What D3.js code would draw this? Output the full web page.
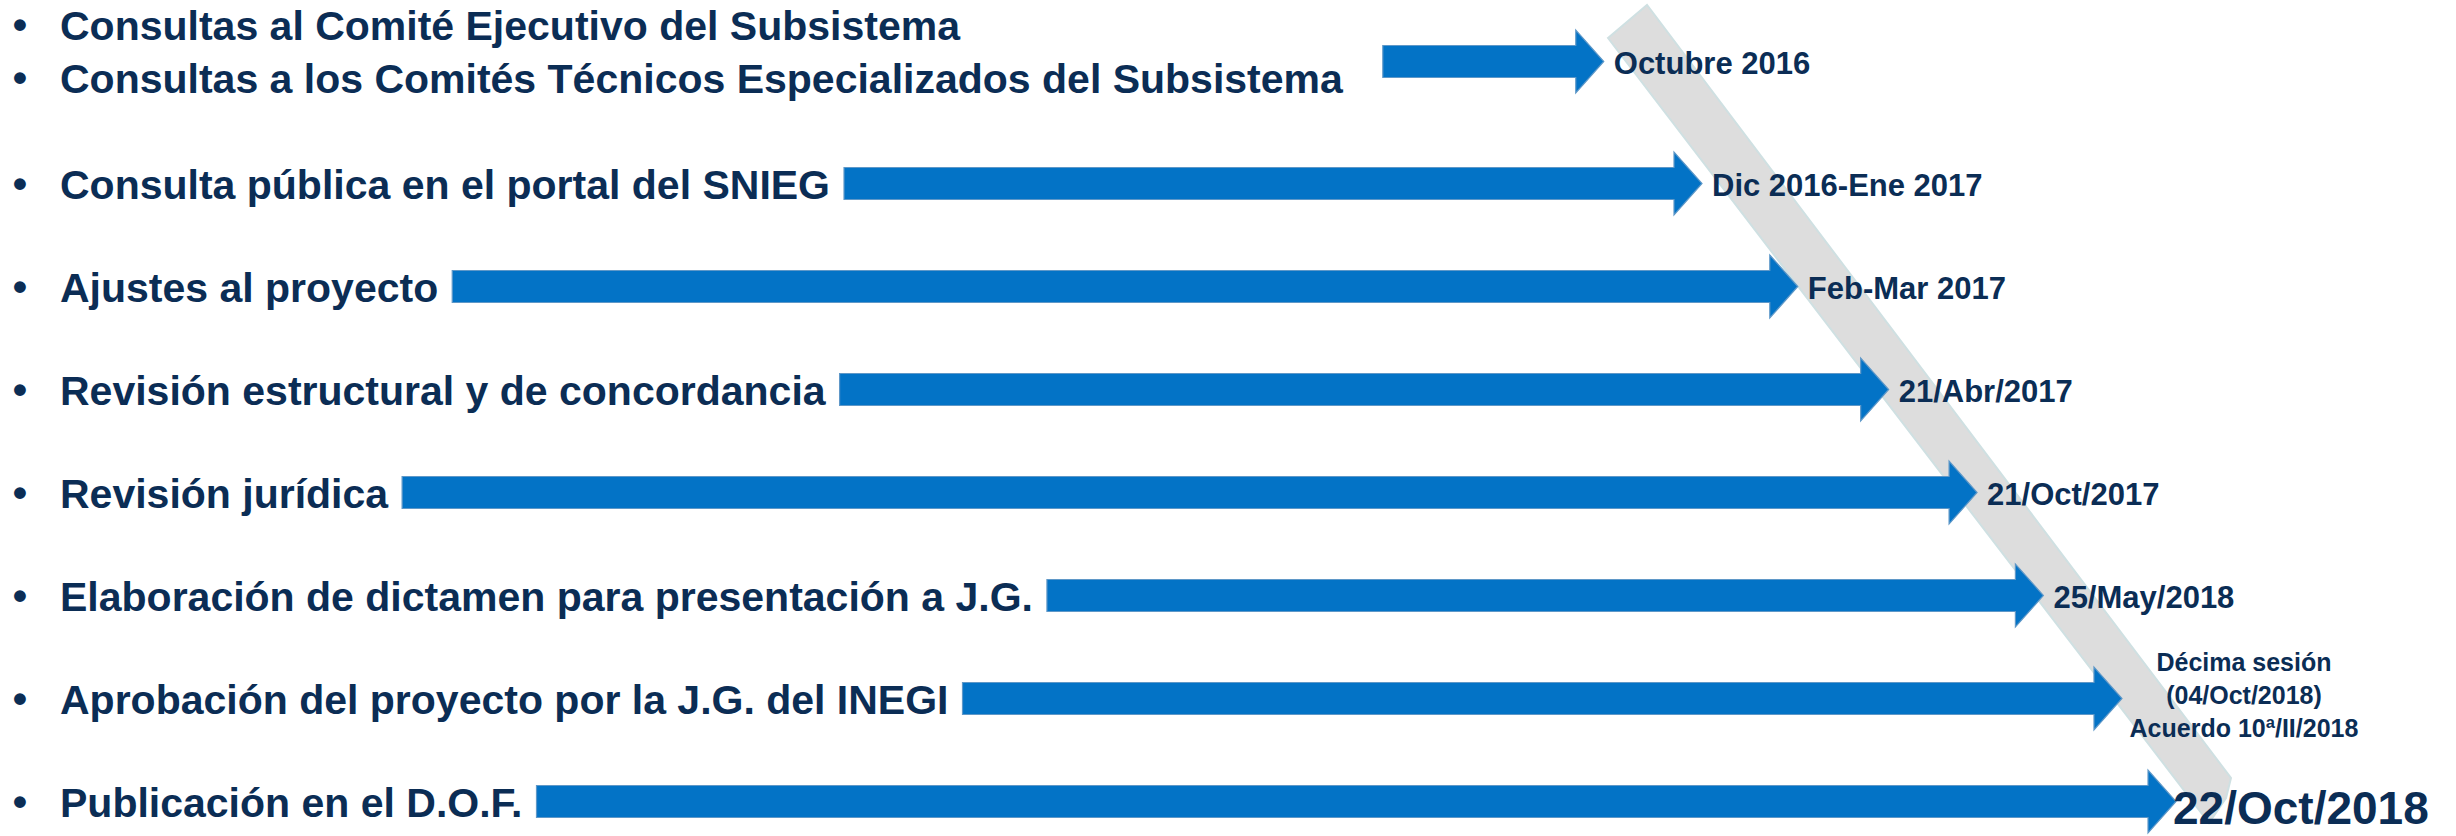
<!DOCTYPE html>
<meta charset="utf-8">
<style>
    body { margin: 0; background: #fff; }
    svg { display: block; }
    .task text.label, .task text.bullet { fill: #0b2d55; font: bold 41px "Liberation Sans", Arial, sans-serif; }
    .task text.date { fill: #0b2d55; font: bold 31px "Liberation Sans", Arial, sans-serif; }
    .task text.date.multi { font-size: 25px; text-anchor: middle; }
    .task text.date.final { font-size: 46px; }
    .arrow { fill: #0373c6; stroke: #5f98c8; stroke-width: 1.2; }
    .band { fill: #dddddd; stroke: #cfe0e2; stroke-width: 2; }
</style>
<svg class="timeline"></svg>
<script src="https://cdn.jsdelivr.net/npm/d3@7/dist/d3.min.js"></script>
<script>
    var tasks = [
        ["Consultas al Comité Ejecutivo del Subsistema", "Consultas a los Comités Técnicos Especializados del Subsistema"],
        ["Consulta pública en el portal del SNIEG"],
        ["Ajustes al proyecto"],
        ["Revisión estructural y de concordancia"],
        ["Revisión jurídica"],
        ["Elaboración de dictamen para presentación a J.G."],
        ["Aprobación del proyecto por la J.G. del INEGI"],
        ["Publicación en el D.O.F."]
    ];
    var dateLabels = [
        "Octubre 2016",
        "Dic 2016-Ene 2017",
        "Feb-Mar 2017",
        "21/Abr/2017",
        "21/Oct/2017",
        "25/May/2018",
        ["Décima sesión", "(04/Oct/2018)", "Acuerdo 10ª/II/2018"],
        "22/Oct/2018"
    ];
    // where each arrow ends, in % of the page width
    var arrowEnd = [65.3, 69.3, 73.2, 76.9, 80.5, 83.2, 86.4, 88.6];

    function drawTimeline() {
        var width = 2456,
            height = 836,
            lineGap = 53;

        var svg = d3.select(".timeline")
            .attr("width", width)
            .attr("height", height);

        var x = d3.scaleLinear().domain([0, 100]).range([0, width]);

        // row centres: each row takes a base height plus one slot per text line
        var heights = tasks.map(function (t) { return 65 + 38 * t.length; });
        var tops = [0].concat(Array.from(d3.cumsum(heights)));
        var y = d3.scaleLinear().domain([0, d3.sum(heights)]).range([-9, d3.sum(heights) - 9]);
        var centers = heights.map(function (h, i) { return y(tops[i] + h / 2); });

        var data = tasks.map(function (t, i) {
            return { lines: t, date: dateLabels[i], end: arrowEnd[i], cy: centers[i], i: i };
        });

        // grey timeline band
        var band = [[1608, 38], [1647, 5], [2231, 778], [2226, 798], [2209, 823]];
        svg.append("path")
            .attr("class", "band")
            .attr("d", d3.line().curve(d3.curveLinearClosed)(band));

        var row = svg.selectAll("g.task")
            .data(data)
            .enter().append("g")
            .attr("class", "task");

        row.each(function (d) {
            var g = d3.select(this);
            var n = d.lines.length;
            var maxLen = 0;
            d.lines.forEach(function (line, k) {
                var base = d.cy + 15 + (k - (n - 1) / 2) * lineGap - (n - 1) * 10;
                g.append("text").attr("class", "bullet")
                    .attr("x", 20).attr("y", base - 1)
                    .attr("text-anchor", "middle")
                    .text("•");
                var t = g.append("text").attr("class", "label")
                    .attr("x", 60).attr("y", base)
                    .text(line);
                maxLen = Math.max(maxLen, t.node().getComputedTextLength());
            });
            d.start = 60 + maxLen + (n > 1 ? 40 : 14);
        });

        var bodyH = 16, headH = 31.5, headL = 28;
        row.append("path")
            .attr("class", "arrow")
            .attr("d", function (d) {
                var x0 = d.start, x1 = x(d.end), cy = d.cy;
                return d3.line()([
                    [x0, cy - bodyH], [x1 - headL, cy - bodyH], [x1 - headL, cy - headH],
                    [x1, cy], [x1 - headL, cy + headH], [x1 - headL, cy + bodyH], [x0, cy + bodyH]
                ]) + "Z";
            });

        var last = data.length - 1;
        row.each(function (d) {
            var g = d3.select(this);
            var tip = x(d.end);
            if (Array.isArray(d.date)) {
                var t = g.append("text").attr("class", "date multi");
                d.date.forEach(function (s, k) {
                    t.append("tspan")
                        .attr("x", tip + 122)
                        .attr("y", d.cy + 5 + (k - 1) * 33)
                        .text(s);
                });
            } else if (d.i === last) {
                g.append("text").attr("class", "date final")
                    .attr("x", tip - 3).attr("y", d.cy + 22)
                    .text(d.date);
            } else {
                g.append("text").attr("class", "date")
                    .attr("x", tip + 10).attr("y", d.cy + 12)
                    .text(d.date);
            }
        });
    }

    drawTimeline();
</script>
